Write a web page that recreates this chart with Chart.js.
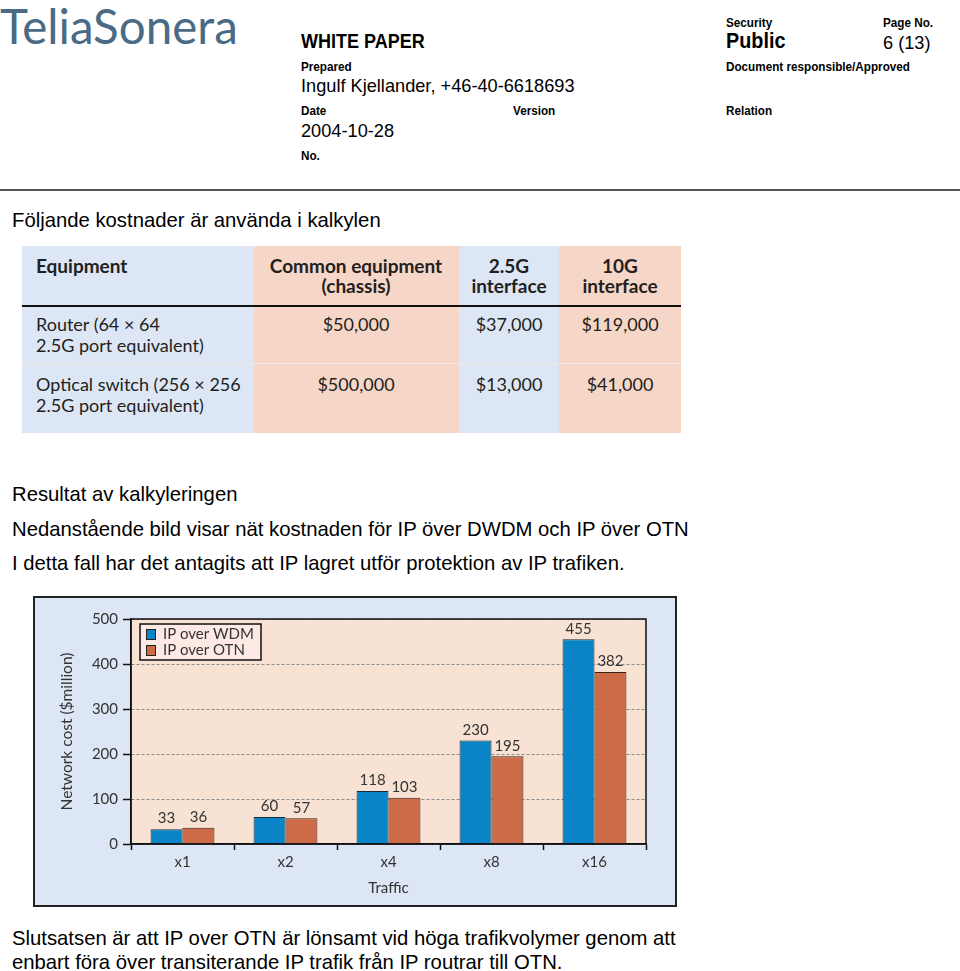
<!DOCTYPE html>
<html>
<head>
<meta charset="utf-8">
<title>IP over WDM vs IP over OTN</title>
<script src="https://cdn.jsdelivr.net/npm/chart.js@4.4.1/dist/chart.umd.min.js"></script>
<style>
  body { margin: 0; width: 960px; height: 971px; position: relative; overflow: hidden; background: #fff;
         font-family: "Liberation Sans", Arial, sans-serif; color: #000; }
  .t { position: absolute; white-space: nowrap; line-height: 1; }
  .lbl { font-size: 13px; font-weight: bold; transform: scaleX(.9); transform-origin: 0 0; }
  .val { font-size: 18.2px; }
  .body { font-size: 20.3px; }
  .logo { font-family: Lato, sans-serif; font-size: 47.5px; color: #4a6b86; }
  .rule { position: absolute; left: 0; top: 189px; width: 960px; height: 2px; background: #555; }

  .tbl { position: absolute; left: 22px; top: 246px; width: 659px; height: 187px;
         font-family: Lato, sans-serif; font-size: 18px; color: #231f20; }
  .col { position: absolute; top: 0; height: 187px; }
  .tbl .t { font-family: Lato, sans-serif; }
  .tbl .h { font-weight: bold; font-size: 19px; }
  .c { transform: translateX(-50%); text-align: center; }

  .frame { position: absolute; left: 33px; top: 596px; width: 640px; height: 307px;
           border: 2px solid #222; background: #dce6f5; }
</style>
</head>
<body>

<div class="t logo" style="left:0;top:2px">TeliaSonera</div>

<div class="t" style="left:301px;top:31px;font-size:20px;font-weight:bold;transform:scaleX(.9);transform-origin:0 0">WHITE PAPER</div>
<div class="t lbl" style="left:726px;top:16px">Security</div>
<div class="t lbl" style="left:883px;top:16px">Page No.</div>
<div class="t" style="left:726px;top:30px;font-size:22px;font-weight:bold;transform:scaleX(.9);transform-origin:0 0">Public</div>
<div class="t val" style="left:883px;top:34px">6 (13)</div>

<div class="t lbl" style="left:301px;top:60px">Prepared</div>
<div class="t lbl" style="left:726px;top:60px">Document responsible/Approved</div>
<div class="t val" style="left:301px;top:77px">Ingulf Kjellander, +46-40-6618693</div>

<div class="t lbl" style="left:301px;top:104px">Date</div>
<div class="t lbl" style="left:513px;top:104px">Version</div>
<div class="t lbl" style="left:726px;top:104px">Relation</div>
<div class="t val" style="left:301px;top:122px">2004-10-28</div>
<div class="t lbl" style="left:301px;top:149px">No.</div>

<div class="rule"></div>

<div class="t body" style="left:12px;top:210px">Följande kostnader är använda i kalkylen</div>

<div class="tbl">
  <div class="col" style="left:0;width:232px;background:#dce6f5"></div>
  <div class="col" style="left:232px;width:205px;background:#f6d6c6"></div>
  <div class="col" style="left:437px;width:100px;background:#dce6f5"></div>
  <div class="col" style="left:537px;width:122px;background:#f6d6c6"></div>
  <div style="position:absolute;left:0;top:59px;width:659px;height:2px;background:#111"></div>
  <div style="position:absolute;left:0;top:117px;width:659px;height:1px;background:#eee8e6"></div>

  <div class="t h" style="left:14px;top:10px">Equipment</div>
  <div class="t h c" style="left:334px;top:10px">Common equipment<br><span style="line-height:22px">(chassis)</span></div>
  <div class="t h c" style="left:487px;top:10px">2.5G<br><span style="line-height:22px">interface</span></div>
  <div class="t h c" style="left:598px;top:10px">10G<br><span style="line-height:22px">interface</span></div>

  <div class="t" style="left:14px;top:69px">Router (64 × 64</div>
  <div class="t" style="left:14px;top:90px">2.5G port equivalent)</div>
  <div class="t c" style="left:334px;top:69px">$50,000</div>
  <div class="t c" style="left:487px;top:69px">$37,000</div>
  <div class="t c" style="left:598px;top:69px">$119,000</div>

  <div class="t" style="left:14px;top:129px">Optical switch (256 × 256</div>
  <div class="t" style="left:14px;top:150px">2.5G port equivalent)</div>
  <div class="t c" style="left:334px;top:129px">$500,000</div>
  <div class="t c" style="left:487px;top:129px">$13,000</div>
  <div class="t c" style="left:598px;top:129px">$41,000</div>
</div>

<div class="t body" style="left:12px;top:484px">Resultat av kalkyleringen</div>
<div class="t body" style="left:12px;top:519px">Nedanstående bild visar nät kostnaden för IP över DWDM och IP över OTN</div>
<div class="t body" style="left:12px;top:553px">I detta fall har det antagits att IP lagret utför protektion av IP trafiken.</div>

<div class="frame"><canvas id="costChart" width="640" height="307"></canvas></div>

<div class="t body" style="left:12px;top:928px">Slutsatsen är att IP over OTN är lönsamt vid höga trafikvolymer genom att</div>
<div class="t body" style="left:12px;top:952px">enbart föra över transiterande IP trafik från IP routrar till OTN.</div>

<script>
const categories = ['x1', 'x2', 'x4', 'x8', 'x16'];
const ipOverWdm = [33, 60, 118, 230, 455];
const ipOverOtn = [36, 57, 103, 195, 382];
const seriesNames = ['IP over WDM', 'IP over OTN'];
const yTicks = [0, 100, 200, 300, 400, 500];

const chartFont = 'Lato, sans-serif';
const textColor = '#333';

// peach plot background
const plotBackground = {
    id: 'plotBackground',
    beforeDraw(chart) {
        const a = chart.chartArea;
        const ctx = chart.ctx;
        ctx.save();
        ctx.fillStyle = '#f7e2d4';
        ctx.fillRect(a.left, a.top, a.right - a.left, a.bottom - a.top);
        ctx.restore();
    }
};

// numbers above the bars
const valueLabels = {
    id: 'valueLabels',
    afterDatasetsDraw(chart) {
        const ctx = chart.ctx;
        ctx.save();
        ctx.font = '15px ' + chartFont;
        ctx.fillStyle = textColor;
        ctx.textAlign = 'center';
        ctx.textBaseline = 'bottom';
        chart.data.datasets.forEach((ds, i) => {
            chart.getDatasetMeta(i).data.forEach((bar, j) => {
                ctx.fillText(ds.data[j], bar.x, bar.y - 3);
            });
        });
        ctx.restore();
    }
};

// black frame round the plot and the boxed legend in its corner
const frameAndLegend = {
    id: 'frameAndLegend',
    afterDraw(chart) {
        const a = chart.chartArea;
        const ctx = chart.ctx;
        ctx.save();
        ctx.strokeStyle = '#111';
        ctx.lineWidth = 1.5;
        ctx.strokeRect(a.left, a.top, a.right - a.left, a.bottom - a.top);

        const x = a.left + 9, y = a.top + 5, w = 121, h = 36;
        ctx.fillStyle = '#fdeae4';
        ctx.fillRect(x, y, w, h);
        ctx.strokeRect(x, y, w, h);
        ctx.font = '15px ' + chartFont;
        ctx.textBaseline = 'middle';
        chart.data.datasets.forEach((ds, i) => {
            const cy = y + 10 + i * 16;
            ctx.fillStyle = ds.backgroundColor;
            ctx.fillRect(x + 6, cy - 5, 9, 10);
            ctx.lineWidth = 1;
            ctx.strokeStyle = '#222';
            ctx.strokeRect(x + 6.5, cy - 4.5, 9, 10);
            ctx.fillStyle = textColor;
            ctx.fillText(ds.label, x + 23, cy);
        });
        ctx.restore();
    }
};

new Chart(document.getElementById('costChart'), {
    type: 'bar',
    data: {
        labels: categories,
        datasets: [
            { label: seriesNames[0], data: ipOverWdm, backgroundColor: '#0985c7',
              borderColor: '#1b2a36', borderWidth: 1 },
            { label: seriesNames[1], data: ipOverOtn, backgroundColor: '#cd6a47',
              borderColor: '#3a2118', borderWidth: 1 }
        ]
    },
    options: {
        responsive: false,
        animation: false,
        events: [],
        layout: { padding: { left: 20, top: 21, right: 29, bottom: 0 } },
        datasets: { bar: { categoryPercentage: 0.62, barPercentage: 1.0 } },
        plugins: { legend: { display: false }, tooltip: { enabled: false } },
        scales: {
            x: {
                grid: { drawOnChartArea: false, tickLength: 6, tickColor: '#111', tickWidth: 1.5 },
                border: { color: '#111', width: 1.5 },
                ticks: { color: textColor, font: { family: chartFont, size: 15 }, padding: 3 },
                title: { display: true, text: 'Traffic', color: textColor,
                         font: { family: chartFont, size: 15 }, padding: { top: 0, bottom: 8 } },
                afterFit(s) { s.height = 61; }
            },
            y: {
                min: 0,
                max: 500,
                afterBuildTicks(s) { s.ticks = yTicks.map(v => ({ value: v })); },
                grid: { color: '#8c8c8c', lineWidth: 1, tickLength: 8, tickColor: '#111',
                        tickWidth: 1.5, tickBorderDash: [] },
                border: { color: '#111', width: 1.5, dash: [3, 2] },
                ticks: { color: textColor, font: { family: chartFont, size: 15 }, padding: 5 },
                title: { display: true, text: 'Network cost ($million)', color: textColor,
                         font: { family: chartFont, size: 15.5 }, padding: { top: 3, bottom: 0 } },
                afterFit(s) { s.width = 76; }
            }
        }
    },
    plugins: [plotBackground, valueLabels, frameAndLegend]
});
</script>
</body>
</html>
